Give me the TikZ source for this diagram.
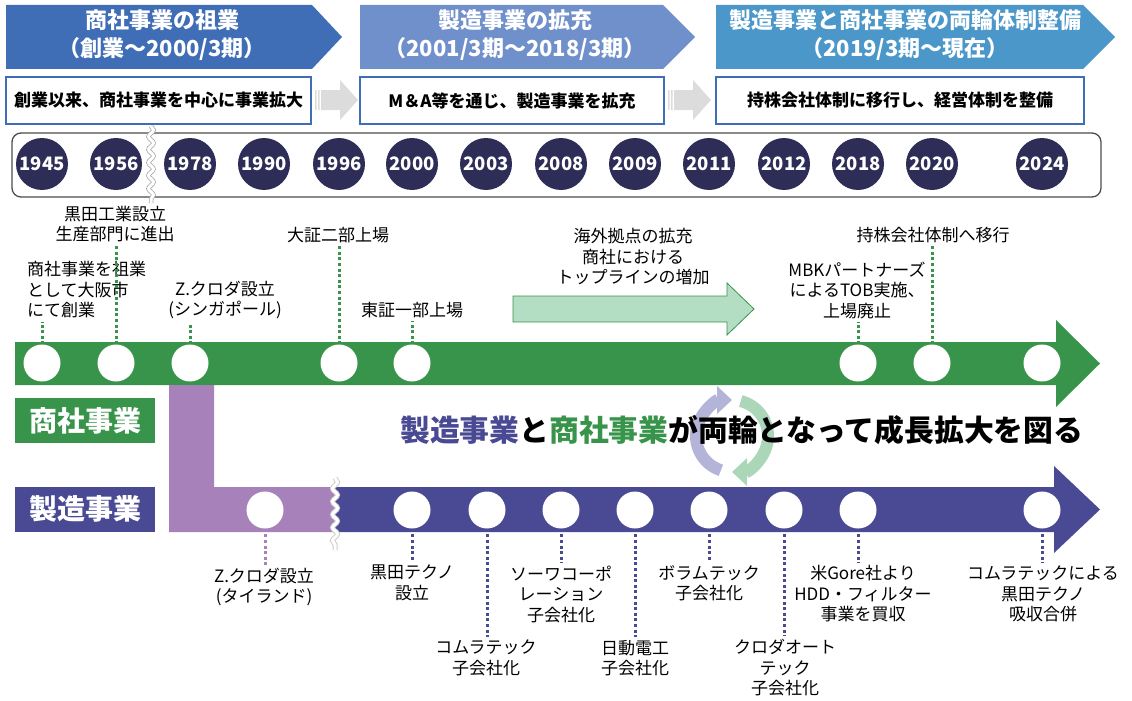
\documentclass[tikz,border=0pt]{standalone}
\usepackage{fontspec}
\setmainfont{Noto Sans CJK JP}
\newfontfamily\blackfont{Noto Sans CJK JP Black}
\usetikzlibrary{arrows.meta,decorations.pathmorphing}

\definecolor{hdone}{HTML}{3F6EB6}
\definecolor{hdtwo}{HTML}{7090CB}
\definecolor{hdthree}{HTML}{4B97C9}
\definecolor{navy}{HTML}{2E2D58}
\definecolor{grn}{HTML}{38944A}
\definecolor{lgrn}{HTML}{B4DEC4}
\definecolor{prp}{HTML}{A781BA}
\definecolor{blu}{HTML}{4A4A94}
\definecolor{lav}{HTML}{B4B4D9}
\definecolor{cgrn}{HTML}{ABD7B8}
\definecolor{gry}{HTML}{DCDCDC}

\newcommand\lblfont{\fontsize{17}{20.5}\selectfont}
\newcommand\hdfont{\fontsize{22}{28}\selectfont\bfseries}
\newcommand\descfont{\fontsize{17}{20}\selectfont\bfseries}
\newcommand\yrfont{\fontsize{18.5}{20}\selectfont\bfseries}
\newcommand\tagfont{\fontsize{28}{30}\selectfont\blackfont}
\newcommand\slgfont{\fontsize{29.8}{32}\selectfont\blackfont}

\begin{document}
\begin{tikzpicture}[x=1pt, y=-1pt,
                    yr/.style={circle, fill=navy, text=white, minimum size=52pt, inner sep=0pt, font=\yrfont},
                    wdot/.style={circle, fill=white, minimum size=37pt, inner sep=0pt},
                    lbl/.style={align=center, inner sep=3pt, font=\lblfont},
                    descbox/.style={draw=hdone, line width=1.5pt, fill=white, minimum height=47pt, font=\descfont},
                    hdtext/.style={text=white, align=center, font=\hdfont},
                    bartag/.style={text=white, minimum width=140pt, minimum height=45pt, inner sep=0pt, font=\tagfont},
                    gdot/.style={draw=grn, line width=3pt, dash pattern=on 3pt off 2.6pt},
                    bdot/.style={draw=blu, line width=3pt, dash pattern=on 3pt off 2.6pt},
                    brk/.style={decorate, decoration={snake, amplitude=2.5pt, segment length=13pt}}]
\useasboundingbox (0,0) rectangle (1132,701);

\fill[hdone] (6,5) -- (312,5) -- (342,37) -- (312,69) -- (6,69) -- cycle;
\fill[hdtwo] (360,5) -- (663,5) -- (695,37) -- (663,69) -- (360,69) -- cycle;
\fill[hdthree] (716,5) -- (1083,5) -- (1115,37) -- (1083,69) -- (716,69) -- cycle;
\node[hdtext] (hd1) at (162,35) {商社事業の祖業\\（創業～2000/3期）};
\node[hdtext] (hd2) at (515,35) {製造事業の拡充\\（2001/3期～2018/3期）};
\node[hdtext] (hd3) at (905,35) {製造事業と商社事業の両輪体制整備\\（2019/3期～現在）};

\node[descbox, minimum width=305pt] (ds1) at (158.5,100.5) {創業以来、商社事業を中心に事業拡大};
\node[descbox, minimum width=304pt] (ds2) at (512,100.5) {M＆A等を通じ、製造事業を拡充};
\node[descbox, minimum width=368pt] (ds3) at (900,100.5) {持株会社体制に移行し、経営体制を整備};

\fill[gry] (315,90) rectangle (316.5,110) (318,90) rectangle (319.5,110)
    (321,90) -- (340,90) -- (340,80) -- (358,100) -- (340,120) -- (340,110) -- (321,110) -- cycle;
\fill[gry] (668,90) rectangle (669.5,110) (671,90) rectangle (672.5,110)
    (674,90) -- (693,90) -- (693,80) -- (711,100) -- (693,120) -- (693,110) -- (674,110) -- cycle;

\draw[draw=black!70, line width=1.3pt, rounded corners=9pt] (12,133) rectangle (1101,197);
\coordinate (brkt) at (151,126);
\coordinate (brkb) at (151,203);
\draw[brk, draw=black!35, line width=4.5pt] (brkt) -- (brkb);
\draw[brk, draw=white, line width=3pt] (brkt) -- (brkb);

\node[yr] (y1945) at (42,164) {1945};
\node[yr] (y1956) at (116,164) {1956};
\node[yr] (y1978) at (190,164) {1978};
\node[yr] (y1990) at (264,164) {1990};
\node[yr] (y1996) at (339,164) {1996};
\node[yr] (y2000) at (412,164) {2000};
\node[yr] (y2003) at (486,164) {2003};
\node[yr] (y2008) at (561,164) {2008};
\node[yr] (y2009) at (635,164) {2009};
\node[yr] (y2011) at (709,164) {2011};
\node[yr] (y2012) at (784,164) {2012};
\node[yr] (y2018) at (858,164) {2018};
\node[yr] (y2020) at (932,164) {2020};
\node[yr] (y2024) at (1042,164) {2024};

\fill[grn] (15,342) -- (1056,342) -- (1056,320) -- (1100,363.5) -- (1056,407) -- (1056,385) -- (15,385) -- cycle;
\fill[prp] (169,385) -- (214,385) -- (214,487) -- (335,487) -- (335,532) -- (169,532) -- cycle;
\fill[blu] (335,487) -- (1054,487) -- (1054,466) -- (1100,509.5) -- (1054,553) -- (1054,532) -- (335,532) -- cycle;
\coordinate (brkm) at (335,478);
\coordinate (brkn) at (335,550);
\draw[brk, draw=black!20, line width=5pt] (brkm) -- (brkn);
\draw[brk, draw=white, line width=3pt] (brkm) -- (brkn);

\fill[lgrn, draw=grn, line width=0.8pt] (513,296) -- (727,296) -- (727,283) -- (754,309) -- (727,335) -- (727,322) -- (513,322) -- cycle;

\node[bartag, fill=grn] (sho) at (85,420.5) {商社事業};
\node[bartag, fill=blu] (sei) at (85,509) {製造事業};

\node[wdot] (g1) at (42,363) {};
\node[wdot] (g2) at (116,363) {};
\node[wdot] (g3) at (190,363) {};
\node[wdot] (g4) at (339,363) {};
\node[wdot] (g5) at (412,363) {};
\node[wdot] (g6) at (858,363) {};
\node[wdot] (g7) at (932,363) {};
\node[wdot] (g8) at (1042,363) {};

\node[wdot] (m1) at (265,510) {};
\node[wdot] (m2) at (412,510) {};
\node[wdot] (m3) at (487,510) {};
\node[wdot] (m4) at (561,510) {};
\node[wdot] (m5) at (635,510) {};
\node[wdot] (m6) at (709,510) {};
\node[wdot] (m7) at (784,510) {};
\node[wdot] (m8) at (858,510) {};
\node[wdot] (m9) at (1042,510) {};

\node[lbl, align=left, anchor=west] (l1) at (24,290) {商社事業を祖業\\として大阪市\\にて創業};
\node[lbl] (l2) at (115,224) {黒田工業設立\\生産部門に進出};
\node[lbl] (l3) at (225,300) {Z.クロダ設立\\(シンガポール)};
\node[lbl] (l4) at (338,235) {大証二部上場};
\node[lbl] (l5) at (412,310) {東証一部上場};
\node[lbl] (l6) at (633,257) {海外拠点の拡充\\商社における\\トップラインの増加};
\node[lbl] (l7) at (857,290) {MBKパートナーズ\\によるTOB実施、\\上場廃止};
\node[lbl] (l8) at (933,235) {持株会社体制へ移行};

\draw[gdot] (g1.north) -- (g1.north |- l1.south);
\draw[gdot] (g2.north) -- (g2.north |- l2.south);
\draw[gdot] (g3.north) -- (g3.north |- l3.south);
\draw[gdot] (g4.north) -- (g4.north |- l4.south);
\draw[gdot] (g5.north) -- (g5.north |- l5.south);
\draw[gdot] (g6.north) -- (g6.north |- l7.south);
\draw[gdot] (g7.north) -- (g7.north |- l8.south);

\node[lbl] (b1) at (264,587) {Z.クロダ設立\\(タイランド)};
\node[lbl] (b2) at (412,583) {黒田テクノ\\設立};
\node[lbl] (b3) at (486,658) {コムラテック\\子会社化};
\node[lbl] (b4) at (561,594) {ソーワコーポ\\レーション\\子会社化};
\node[lbl] (b5) at (635,658) {日動電工\\子会社化};
\node[lbl] (b6) at (709,583) {ボラムテック\\子会社化};
\node[lbl] (b7) at (785,668) {クロダオート\\テック\\子会社化};
\node[lbl] (b8) at (863,594) {米Gore社より\\HDD・フィルター\\事業を買収};
\node[lbl] (b9) at (1043,594) {コムラテックによる\\黒田テクノ\\吸収合併};

\draw[bdot, draw=prp] (m1.south) -- (m1.south |- b1.north);
\draw[bdot] (m2.south) -- (m2.south |- b2.north);
\draw[bdot] (m3.south) -- (m3.south |- b3.north);
\draw[bdot] (m4.south) -- (m4.south |- b4.north);
\draw[bdot] (m5.south) -- (m5.south |- b5.north);
\draw[bdot] (m6.south) -- (m6.south |- b6.north);
\draw[bdot] (m7.south) -- (m7.south |- b7.north);
\draw[bdot] (m8.south) -- (m8.south |- b8.north);
\draw[bdot] (m9.south) -- (m9.south |- b9.north);

\coordinate (cyc) at (732,436);
\draw[draw=lav, line width=12pt, -{Triangle[width=27pt,length=15pt]}] ([shift={(108:36)}]cyc) arc[start angle=108, end angle=270, radius=36];
\draw[draw=cgrn, line width=12pt, -{Triangle[width=27pt,length=15pt]}] ([shift={(284:36)}]cyc) arc[start angle=284, end angle=450, radius=36];

\node[anchor=west, inner sep=0pt, font=\slgfont] (slogan) at (400,430) {\textcolor{blu}{製造事業}と\textcolor{grn}{商社事業}が両輪となって成長拡大を図る};
\end{tikzpicture}
\end{document}
